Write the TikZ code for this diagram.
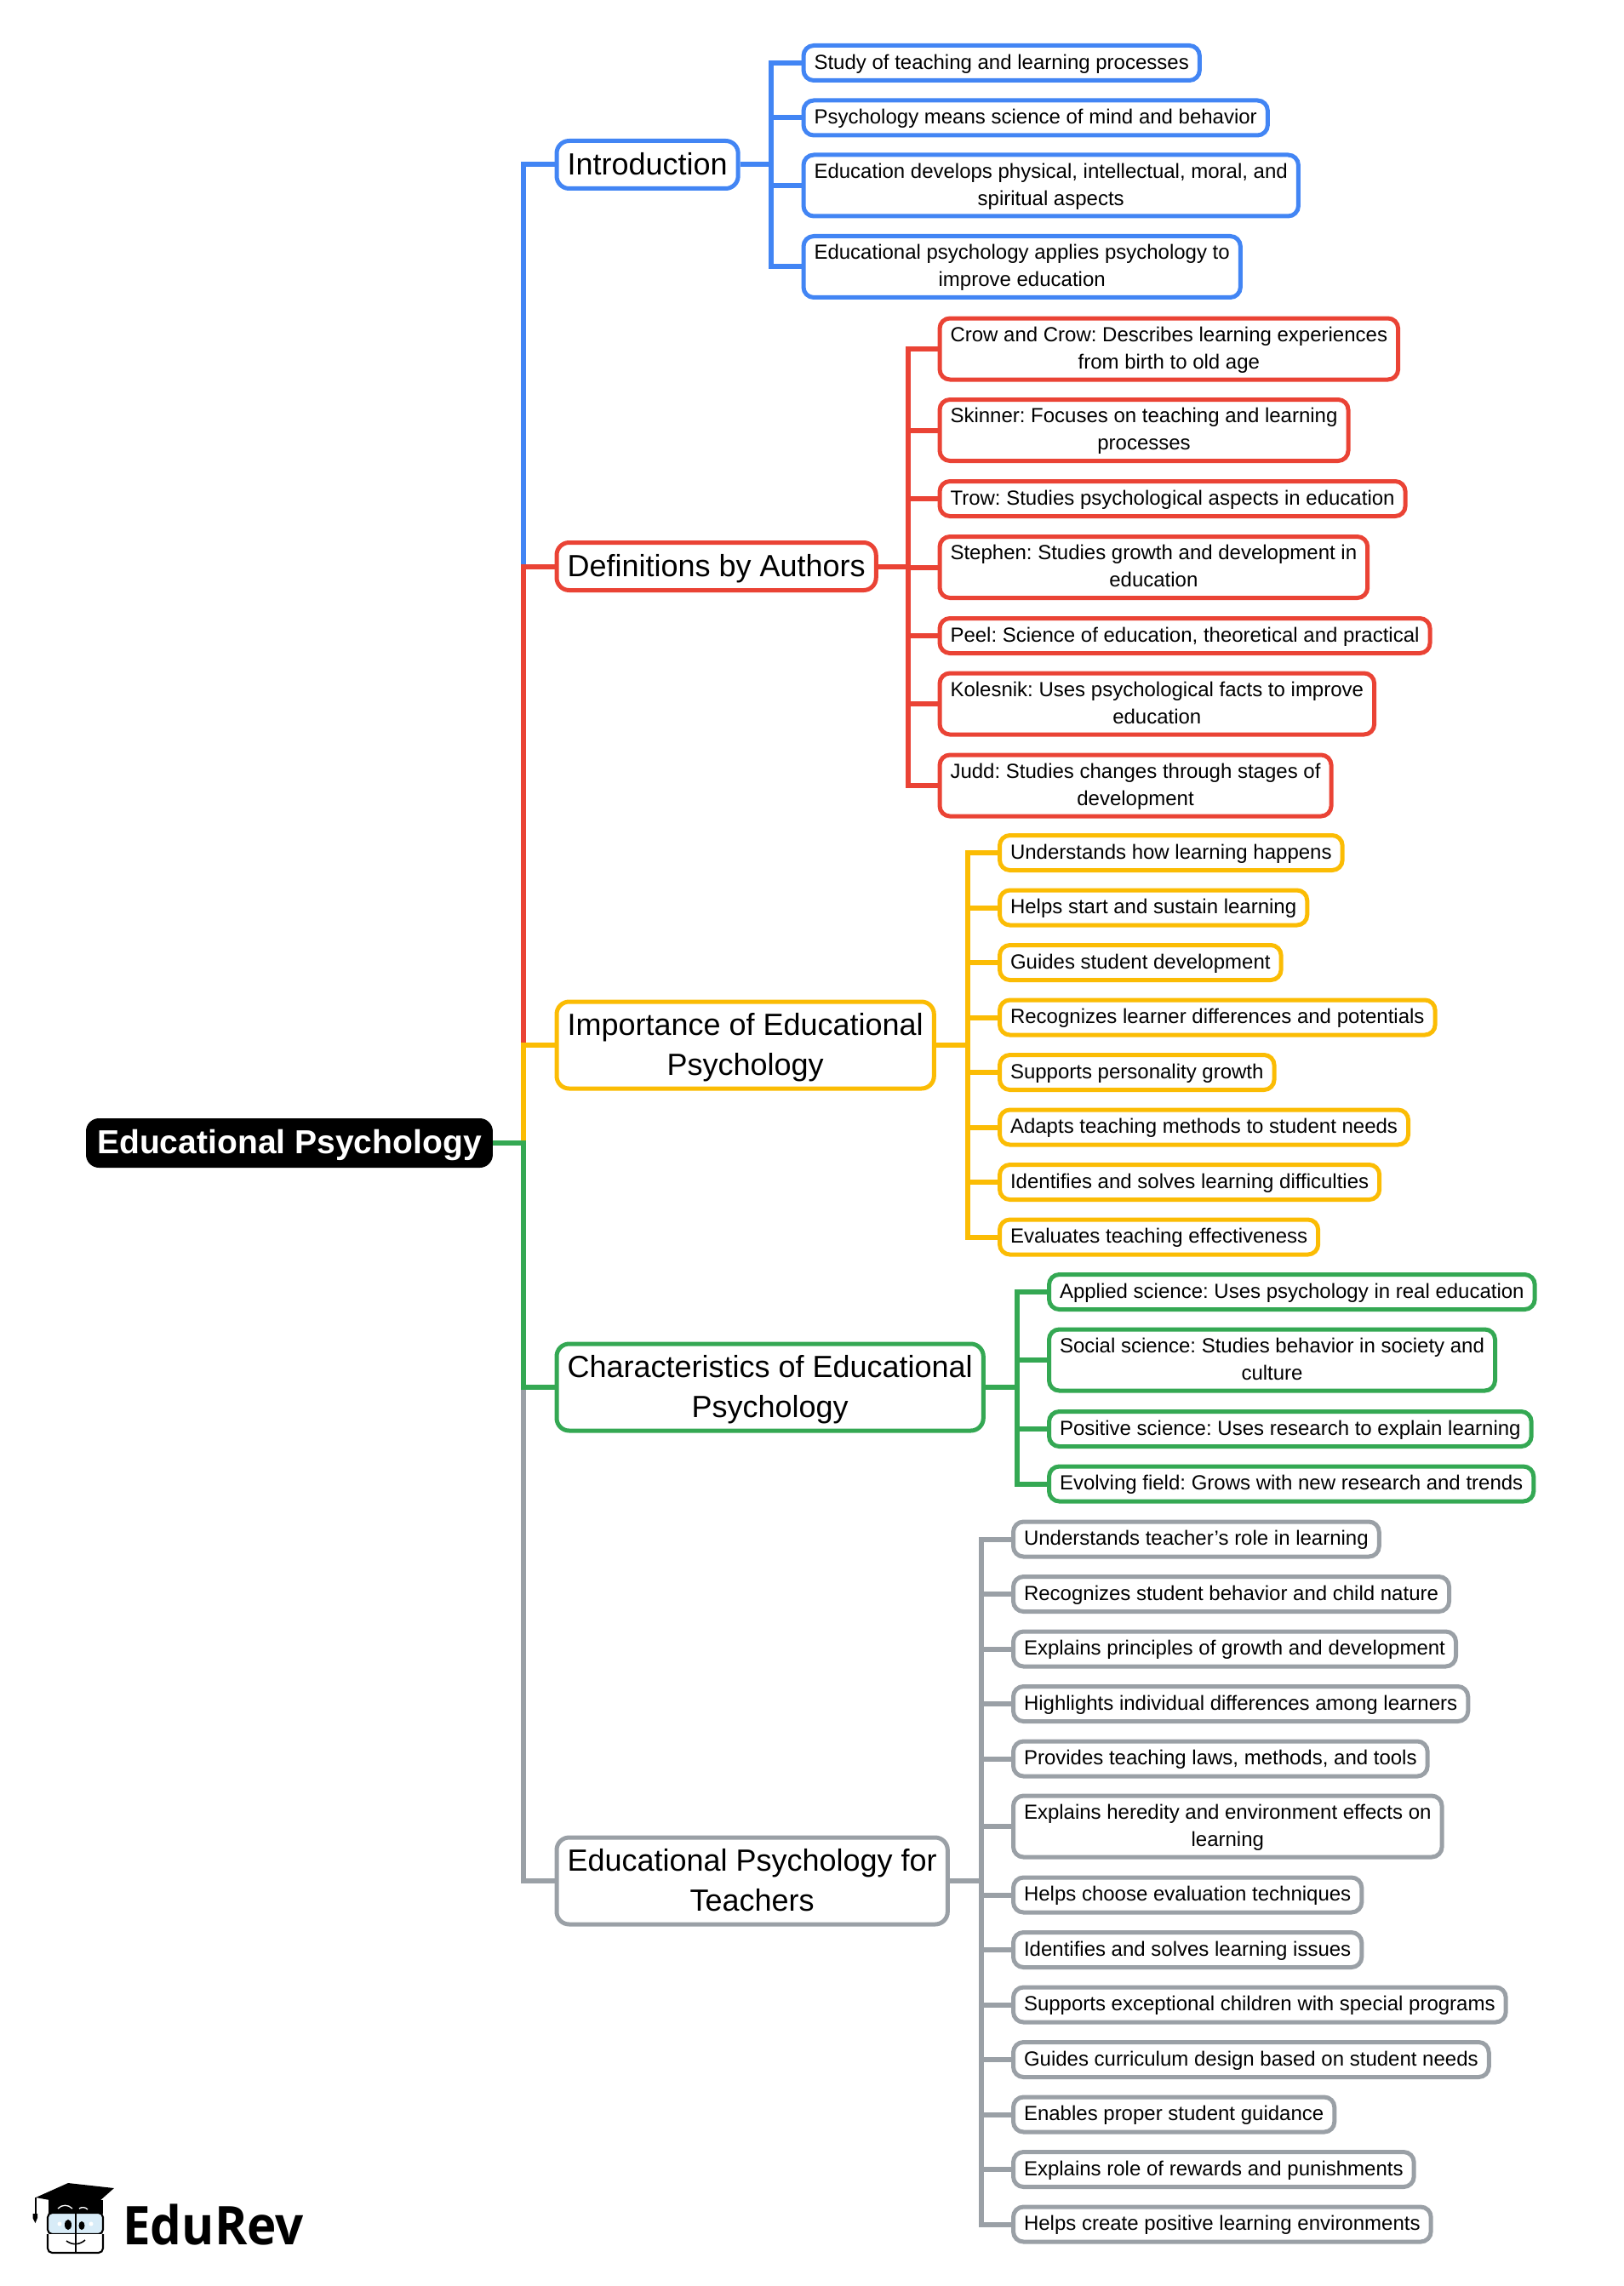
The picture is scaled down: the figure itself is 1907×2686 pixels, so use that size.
\documentclass[tikz,border=0pt]{standalone}
\usepackage{fontspec}
\setmainfont{Liberation Sans}
\newfontfamily\logofont[FakeStretch=0.93]{Open Sans}
\usetikzlibrary{arrows,shapes,calc,positioning}
\definecolor{mapblue}{HTML}{4285F4}
\definecolor{mapred}{HTML}{EA4335}
\definecolor{mapyellow}{HTML}{FBBC04}
\definecolor{mapgreen}{HTML}{34A853}
\definecolor{mapgrey}{HTML}{9AA0A6}
\definecolor{logoblue}{HTML}{D8ECF8}
\frenchspacing
\begin{document}
\begin{tikzpicture}[x=0.75pt,y=-0.75pt]
	\useasboundingbox (0,0) rectangle (1907,2686);
	\tikzstyle{every node}=[font=\fontsize{18}{24}\selectfont, align=center, anchor=west, inner xsep=9.4pt, inner ysep=0pt, text=black]
	\tikzstyle{leaf}=[draw, fill=white, line width=3.75pt, rounded corners=9pt, minimum height=30.75pt, text height=14.5pt, text depth=3.9pt]
	\tikzstyle{leaftwo}=[leaf, minimum height=54pt, text height=38.5pt]
	\tikzstyle{branch}=[draw, fill=white, line width=3.75pt, rounded corners=11pt, font=\fontsize{27}{35.25}\selectfont, minimum height=42pt, text height=22.5pt, text depth=5.1pt]
	\tikzstyle{branchtwo}=[branch, minimum height=76.5pt, text height=57.75pt]
	\tikzstyle{link}=[line width=4.5pt]

	% root and trunk
	\node [draw=black, fill=black, text=white, line width=1pt, rounded corners=11pt, font=\fontsize{29.3}{35.25}\selectfont\bfseries, minimum height=42.5pt, text height=23.5pt, text depth=5.5pt] (root) at (101,1343) {Educational Psychology};
	\node [branch, draw=mapblue] (intro) at (651.5,193.5) {Introduction};
	\node [branch, draw=mapred] (defs) at (651.5,665.5) {Definitions by Authors};
	\node [branchtwo, draw=mapyellow] (importance) at (651.5,1228) {Importance of Educational\\Psychology};
	\node [branchtwo, draw=mapgreen] (character) at (651.5,1630) {Characteristics of Educational\\Psychology};
	\node [branchtwo, draw=mapgrey] (teachers) at (651.5,2210) {Educational Psychology for\\Teachers};
	\coordinate (trunk) at (615,1343);
	\draw [link, mapblue] (root.east) -- (trunk) |- (intro.west);
	\draw [link, mapred] (root.east) -- (trunk) |- (defs.west);
	\draw [link, mapyellow] (root.east) -- (trunk) |- (importance.west);
	\draw [link, mapgrey] (root.east) -- (trunk) |- (teachers.west);
	\draw [link, mapgreen] (root.east) -- (trunk) |- (character.west);

	% introduction
	\node [leaf, draw=mapblue] (intro1) at (941.5,74) {Study of teaching and learning processes};
	\node [leaf, draw=mapblue] (intro2) at (941.5,138.5) {Psychology means science of mind and behavior};
	\node [leaftwo, draw=mapblue] (intro3) at (941.5,218) {Education develops physical, intellectual, moral, and\\spiritual aspects};
	\node [leaftwo, draw=mapblue] (intro4) at (941.5,313.5) {Educational psychology applies psychology to\\improve education};
	\coordinate (introspine) at (906,193.5);
	\draw [link, mapblue] (intro.east) -- (introspine);
	\draw [link, mapblue] (introspine) |- (intro1.west);
	\draw [link, mapblue] (introspine) |- (intro2.west);
	\draw [link, mapblue] (introspine) |- (intro3.west);
	\draw [link, mapblue] (introspine) |- (intro4.west);

	% definitions
	\node [leaftwo, draw=mapred] (defs1) at (1101.5,410) {Crow and Crow: Describes learning experiences\\from birth to old age};
	\node [leaftwo, draw=mapred] (defs2) at (1101.5,505.5) {Skinner: Focuses on teaching and learning\\processes};
	\node [leaf, draw=mapred] (defs3) at (1101.5,586) {Trow: Studies psychological aspects in education};
	\node [leaftwo, draw=mapred] (defs4) at (1101.5,666.5) {Stephen: Studies growth and development in\\education};
	\node [leaf, draw=mapred] (defs5) at (1101.5,747) {Peel: Science of education, theoretical and practical};
	\node [leaftwo, draw=mapred] (defs6) at (1101.5,827) {Kolesnik: Uses psychological facts to improve\\education};
	\node [leaftwo, draw=mapred] (defs7) at (1101.5,923) {Judd: Studies changes through stages of\\development};
	\coordinate (defsspine) at (1066.5,665.5);
	\draw [link, mapred] (defs.east) -- (defsspine);
	\draw [link, mapred] (defsspine) |- (defs1.west);
	\draw [link, mapred] (defsspine) |- (defs2.west);
	\draw [link, mapred] (defsspine) |- (defs3.west);
	\draw [link, mapred] (defsspine) |- (defs4.west);
	\draw [link, mapred] (defsspine) |- (defs5.west);
	\draw [link, mapred] (defsspine) |- (defs6.west);
	\draw [link, mapred] (defsspine) |- (defs7.west);

	% importance
	\node [leaf, draw=mapyellow] (imp1) at (1172,1002) {Understands how learning happens};
	\node [leaf, draw=mapyellow] (imp2) at (1172,1066.5) {Helps start and sustain learning};
	\node [leaf, draw=mapyellow] (imp3) at (1172,1131) {Guides student development};
	\node [leaf, draw=mapyellow] (imp4) at (1172,1195.5) {Recognizes learner differences and potentials};
	\node [leaf, draw=mapyellow] (imp5) at (1172,1260) {Supports personality growth};
	\node [leaf, draw=mapyellow] (imp6) at (1172,1324.5) {Adapts teaching methods to student needs};
	\node [leaf, draw=mapyellow] (imp7) at (1172,1389) {Identifies and solves learning difficulties};
	\node [leaf, draw=mapyellow] (imp8) at (1172,1453.5) {Evaluates teaching effectiveness};
	\coordinate (impspine) at (1136.5,1228);
	\draw [link, mapyellow] (importance.east) -- (impspine);
	\draw [link, mapyellow] (impspine) |- (imp1.west);
	\draw [link, mapyellow] (impspine) |- (imp2.west);
	\draw [link, mapyellow] (impspine) |- (imp3.west);
	\draw [link, mapyellow] (impspine) |- (imp4.west);
	\draw [link, mapyellow] (impspine) |- (imp5.west);
	\draw [link, mapyellow] (impspine) |- (imp6.west);
	\draw [link, mapyellow] (impspine) |- (imp7.west);
	\draw [link, mapyellow] (impspine) |- (imp8.west);

	% characteristics
	\node [leaf, draw=mapgreen] (char1) at (1230,1518) {Applied science: Uses psychology in real education};
	\node [leaftwo, draw=mapgreen] (char2) at (1230,1598) {Social science: Studies behavior in society and\\culture};
	\node [leaf, draw=mapgreen] (char3) at (1230,1679) {Positive science: Uses research to explain learning};
	\node [leaf, draw=mapgreen] (char4) at (1230,1743.5) {Evolving field: Grows with new research and trends};
	\coordinate (charspine) at (1195,1630);
	\draw [link, mapgreen] (character.east) -- (charspine);
	\draw [link, mapgreen] (charspine) |- (char1.west);
	\draw [link, mapgreen] (charspine) |- (char2.west);
	\draw [link, mapgreen] (charspine) |- (char3.west);
	\draw [link, mapgreen] (charspine) |- (char4.west);

	% teachers
	\node [leaf, draw=mapgrey] (teach1) at (1188,1808.5) {Understands teacher’s role in learning};
	\node [leaf, draw=mapgrey] (teach2) at (1188,1873) {Recognizes student behavior and child nature};
	\node [leaf, draw=mapgrey] (teach3) at (1188,1937.5) {Explains principles of growth and development};
	\node [leaf, draw=mapgrey] (teach4) at (1188,2002) {Highlights individual differences among learners};
	\node [leaf, draw=mapgrey] (teach5) at (1188,2066.5) {Provides teaching laws, methods, and tools};
	\node [leaftwo, draw=mapgrey] (teach6) at (1188,2146) {Explains heredity and environment effects on\\learning};
	\node [leaf, draw=mapgrey] (teach7) at (1188,2226.5) {Helps choose evaluation techniques};
	\node [leaf, draw=mapgrey] (teach8) at (1188,2291) {Identifies and solves learning issues};
	\node [leaf, draw=mapgrey] (teach9) at (1188,2355.5) {Supports exceptional children with special programs};
	\node [leaf, draw=mapgrey] (teach10) at (1188,2420) {Guides curriculum design based on student needs};
	\node [leaf, draw=mapgrey] (teach11) at (1188,2484.5) {Enables proper student guidance};
	\node [leaf, draw=mapgrey] (teach12) at (1188,2549) {Explains role of rewards and punishments};
	\node [leaf, draw=mapgrey] (teach13) at (1188,2613.5) {Helps create positive learning environments};
	\coordinate (teachspine) at (1152.5,2210);
	\draw [link, mapgrey] (teachers.east) -- (teachspine);
	\draw [link, mapgrey] (teachspine) |- (teach1.west);
	\draw [link, mapgrey] (teachspine) |- (teach2.west);
	\draw [link, mapgrey] (teachspine) |- (teach3.west);
	\draw [link, mapgrey] (teachspine) |- (teach4.west);
	\draw [link, mapgrey] (teachspine) |- (teach5.west);
	\draw [link, mapgrey] (teachspine) |- (teach6.west);
	\draw [link, mapgrey] (teachspine) |- (teach7.west);
	\draw [link, mapgrey] (teachspine) |- (teach8.west);
	\draw [link, mapgrey] (teachspine) |- (teach9.west);
	\draw [link, mapgrey] (teachspine) |- (teach10.west);
	\draw [link, mapgrey] (teachspine) |- (teach11.west);
	\draw [link, mapgrey] (teachspine) |- (teach12.west);
	\draw [link, mapgrey] (teachspine) |- (teach13.west);

	% logo
	\draw [fill=black, line width=0.5pt] (57,2585) -- (120,2585) -- (120,2600) -- (57,2600) -- cycle;
	\draw [white, line width=1pt] (68,2595) .. controls (73,2590) and (80,2590) .. (85,2595);
	\draw [white, line width=1pt] (93,2595) .. controls (96,2593) and (100,2593) .. (103,2596);
	\draw [fill=logoblue, line width=1.6pt, rounded corners=4pt] (56,2600) rectangle (121,2625);
	\draw [fill=white, line width=1.6pt, rounded corners=4pt] (56,2625) -- (56,2647) -- (121,2647) -- (121,2625);
	\draw [line width=1.6pt] (89,2599) -- (89,2648);
	\fill [white] (70,2613) circle (2.5);
	\fill [white] (107,2613) circle (2.5);
	\fill (80,2614) ellipse (4 and 6);
	\fill (96,2615) ellipse (3.5 and 5);
	\draw [line width=1.2pt] (78,2633) .. controls (85,2638) and (93,2638) .. (100,2632);
	\fill (80,2565) -- (134,2571) -- (108,2594) -- (42,2582) -- cycle;
	\draw [line width=0.8pt] (42,2582) -- (42,2601);
	\fill (38.5,2601) -- (44,2601) -- (44,2606) -- (41.5,2612) -- (38.5,2606) -- cycle;
	\node [font=\fontsize{47}{50}\selectfont\logofont\bfseries, inner xsep=0pt] (logotext) at (144,2614) {EduRev};
\end{tikzpicture}
\end{document}
